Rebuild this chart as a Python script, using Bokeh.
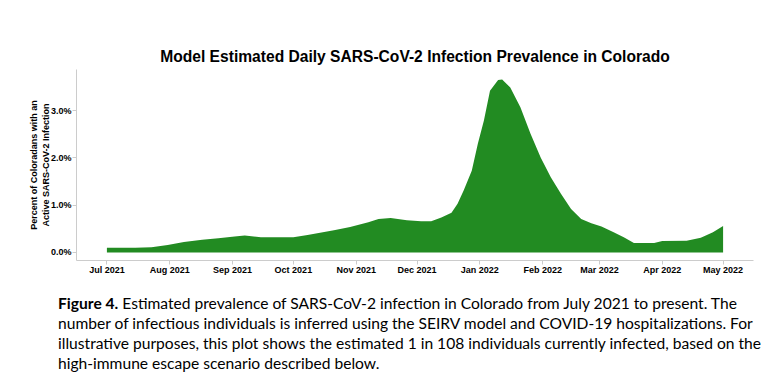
import pandas as pd
from bokeh.plotting import figure
from bokeh.models import (ColumnDataSource, PrintfTickFormatter, MonthsTicker,
                          DatetimeTickFormatter, FixedTicker, Div)
from bokeh.layouts import column
from bokeh.embed import file_html
from bokeh.resources import INLINE

# ---- data ----
dates = ["2021-07-01", "2021-07-15", "2021-07-23", "2021-07-31", "2021-08-08",
         "2021-08-17", "2021-08-25", "2021-09-02", "2021-09-07", "2021-09-15",
         "2021-10-01", "2021-10-08", "2021-10-21", "2021-10-29", "2021-11-07",
         "2021-11-12", "2021-11-18", "2021-11-26", "2021-12-03", "2021-12-08",
         "2021-12-13", "2021-12-18", "2021-12-21", "2021-12-24", "2021-12-28",
         "2021-12-31", "2022-01-03", "2022-01-06", "2022-01-10", "2022-01-12",
         "2022-01-16", "2022-01-21", "2022-01-26", "2022-01-31", "2022-02-05",
         "2022-02-10", "2022-02-15", "2022-02-20", "2022-02-25", "2022-03-02",
         "2022-03-08", "2022-03-13", "2022-03-18", "2022-03-28", "2022-04-01",
         "2022-04-13", "2022-04-20", "2022-04-26", "2022-05-01"]
prevalence = [0.10, 0.10, 0.11, 0.16, 0.22,
              0.27, 0.30, 0.34, 0.36, 0.32,
              0.32, 0.37, 0.47, 0.54, 0.64,
              0.71, 0.73, 0.68, 0.66, 0.66,
              0.74, 0.84, 1.03, 1.31, 1.73,
              2.30, 2.79, 3.42, 3.65, 3.66,
              3.49, 3.07, 2.51, 2.01, 1.59,
              1.24, 0.92, 0.71, 0.62, 0.55,
              0.43, 0.32, 0.20, 0.20, 0.24,
              0.25, 0.31, 0.43, 0.56]
y_ticks = [0, 1, 2, 3]

title_text = "Model Estimated Daily SARS-CoV-2 Infection Prevalence in Colorado"
y_label = "Percent of Coloradans with an\nActive SARS-CoV-2 Infection"
caption_bold = "Figure 4."
caption_lines = [
    " Estimated prevalence of SARS-CoV-2 infection in Colorado from July 2021 to present. The",
    "number of infectious individuals is inferred using the SEIRV model and COVID-19 hospitalizations. For",
    "illustrative purposes, this plot shows the estimated 1 in 108 individuals currently infected, based on the",
    "high-immune escape scenario described below.",
]

src = ColumnDataSource(dict(date=pd.to_datetime(dates), val=prevalence,
                            zero=[0.0] * len(prevalence)))

p = figure(width=777, height=293, x_axis_type="datetime",
           x_range=(pd.Timestamp("2021-06-16"), pd.Timestamp("2022-05-16")),
           y_range=(-0.17, 3.87),
           output_backend="svg", toolbar_location=None,
           min_border_left=76, min_border_right=24, min_border_top=69,
           min_border_bottom=33)

p.varea(x="date", y1="zero", y2="val", source=src, fill_color="#228B22")

p.title.text = title_text
p.title.align = "center"
p.title.text_font = "Arial"
p.title.text_font_style = "bold"
p.title.text_font_size = "15.6px"
p.title.text_color = "black"

p.xgrid.visible = False
p.ygrid.visible = False
p.outline_line_color = None

for ax in (p.xaxis[0], p.yaxis[0]):
    ax.axis_line_color = "#cccccc"
    ax.major_tick_line_color = "#cccccc"
    ax.major_tick_out = 4
    ax.major_tick_in = 0
    ax.minor_tick_line_color = None
    ax.major_label_text_font = "Arial"
    ax.major_label_text_font_style = "bold"
    ax.major_label_text_font_size = "9px"
    ax.major_label_text_color = "black"

p.yaxis.ticker = FixedTicker(ticks=y_ticks)
p.yaxis.formatter = PrintfTickFormatter(format="%.1f%%")
p.yaxis.axis_label = y_label
p.yaxis.axis_label_text_font = "Arial"
p.yaxis.axis_label_text_font_style = "bold"
p.yaxis.axis_label_text_font_size = "9px"
p.yaxis.axis_label_text_color = "black"
p.yaxis.axis_label_text_line_height = 1.2
p.yaxis.axis_label_standoff = -3
p.yaxis.major_label_standoff = 1

p.xaxis.ticker = MonthsTicker(months=list(range(12)))
fmt = "%b %Y"
p.xaxis.formatter = DatetimeTickFormatter(days=fmt, months=fmt, years=fmt)
p.xaxis.major_label_standoff = 0

html_caption = ("<div style=\"font-family:'Lato'; font-size:15.6px; line-height:20px; "
                "color:black; white-space:nowrap; padding-left:58px;\">"
                "<b>" + caption_bold + "</b>" + caption_lines[0] + "<br>"
                + "<br>".join(caption_lines[1:]) + "</div>")
cap = Div(text=html_caption, width=777, height=85, margin=(0, 0, 0, 0))

layout = column(p, cap, spacing=0)
open("out.html", "w").write(file_html(layout, INLINE))
